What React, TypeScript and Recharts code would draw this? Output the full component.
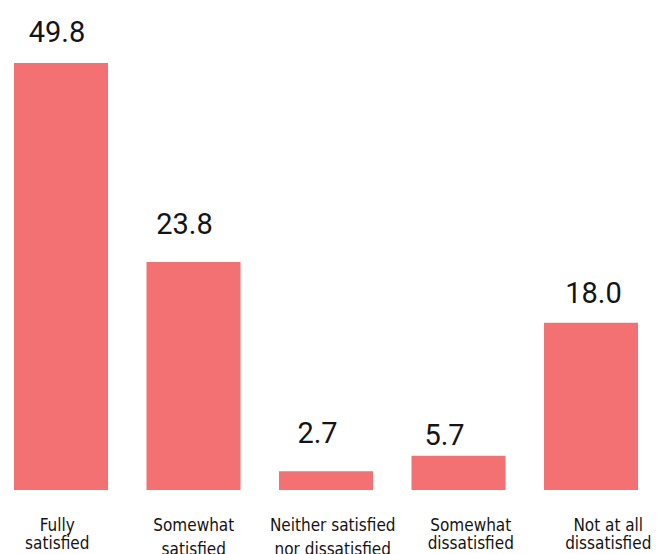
import React from "react";
import { BarChart, Bar, XAxis, YAxis, LabelList } from "recharts";

const categories = [
  ["Fully", "satisfied"],
  ["Somewhat", "satisfied"],
  ["Neither satisfied", "nor dissatisfied"],
  ["Somewhat", "dissatisfied"],
  ["Not at all", "dissatisfied"],
];
// bar heights as drawn in the picture
const barHeights = [49.8, 26.6, 2.2, 4.0, 19.5];
// numbers printed above the bars
const printedValues = ["49.8", "23.8", "2.7", "5.7", "18.0"];

const data = categories.map((c, i) => ({
  name: c.join(" "),
  value: barHeights[i],
  label: printedValues[i],
}));

const BAR_COLOR = "#F37173";
const TEXT = "#141414";

// hand-tuned label nudges to follow the original layout
const labelGap = [21, 28, 28, 11, 20];
const labelDx = [-4, -9, -8.5, -14, 2.5];
const tickDx = [-4, 0, 6.5, 12, 17];
const secondLine = [59, 65, 65, 59, 59];

function ValueLabel(props: any) {
  const { x, y, width, index } = props;
  return (
    <text
      x={x + width / 2 + labelDx[index]}
      y={y - labelGap[index]}
      textAnchor="middle"
      fontFamily="Roboto, 'Liberation Sans', sans-serif"
      fontSize={29}
      fill={TEXT}
    >
      {printedValues[index]}
    </text>
  );
}

function CategoryTick(props: any) {
  const { x, y, index } = props;
  const lines = categories[index];
  const cx = x + tickDx[index];
  return (
    <g>
      <text
        x={cx}
        y={y + 41}
        textAnchor="middle"
        fontFamily="'DejaVu Sans Condensed', 'Liberation Sans Narrow', sans-serif"
        fontSize={17}
        fill={TEXT}
      >
        {lines[0]}
      </text>
      <text
        x={cx}
        y={y + secondLine[index]}
        textAnchor="middle"
        fontFamily="'DejaVu Sans Condensed', 'Liberation Sans Narrow', sans-serif"
        fontSize={17}
        fill={TEXT}
      >
        {lines[1]}
      </text>
    </g>
  );
}

export default function App() {
  return (
    <div style={{ position: "absolute", left: 0, top: 0, width: 659, height: 554, background: "#fff" }}>
      <BarChart width={659} height={554} data={data} margin={{ top: 63, right: 1.5, left: -5, bottom: 0 }}>
        <XAxis
          dataKey="name"
          height={64}
          axisLine={false}
          tickLine={false}
          tickSize={0}
          tickMargin={0}
          interval={0}
          tick={<CategoryTick />}
        />
        <YAxis hide domain={[0, 49.8]} />
        <Bar dataKey="value" fill={BAR_COLOR} barSize={94} isAnimationActive={false}>
          <LabelList dataKey="label" content={<ValueLabel />} />
        </Bar>
      </BarChart>
    </div>
  );
}
